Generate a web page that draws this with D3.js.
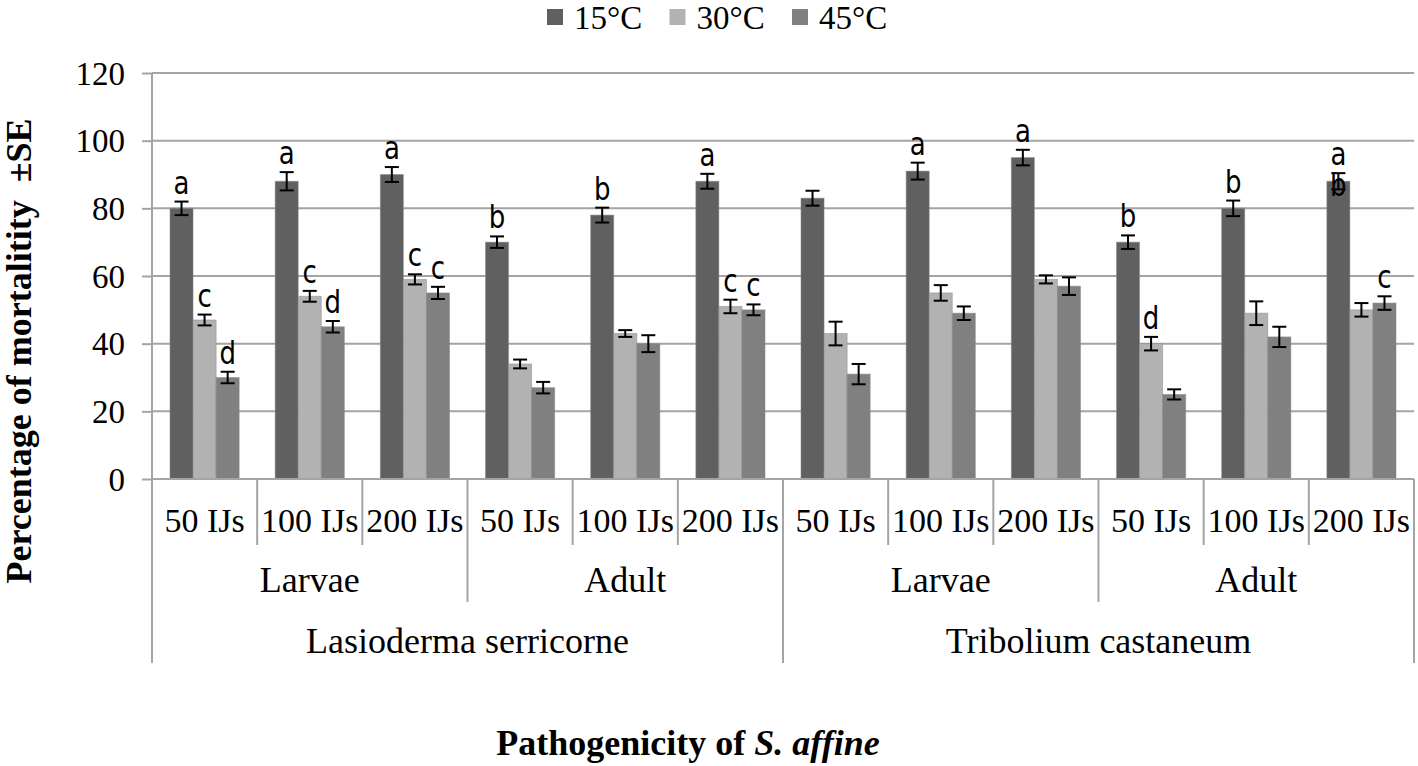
<!DOCTYPE html>
<html>
<head>
<meta charset="utf-8">
<script src="https://cdn.jsdelivr.net/npm/d3@7"></script>
<style>
  body { margin: 0; background: #fff; }
  svg { display: block; }
</style>
</head>
<body>
<svg id="chart" width="1418" height="766"></svg>
<script>
// data
const series = ['15°C', '30°C', '45°C']
const doses = ['50 IJs', '100 IJs', '200 IJs']
const stages = ['Larvae', 'Adult']
const species = ['Lasioderma serricorne', 'Tribolium castaneum']
const yTicks = [0, 20, 40, 60, 80, 100, 120]

const values15 = [80, 88, 90, 70, 78, 88, 83, 91, 95, 70, 80, 88]
const values30 = [47, 54, 59, 34, 43, 51, 43, 55, 59, 40, 49, 50]
const values45 = [30, 45, 55, 27, 40, 50, 31, 49, 57, 25, 42, 52]

const se15 = [2, 2.7, 2.2, 1.7, 2.2, 2.2, 2.2, 2.5, 2.3, 2, 2.3, 2.4]
const se30 = [1.6, 1.6, 1.5, 1.3, 1, 2, 3.5, 2.3, 1.2, 2, 3.5, 2]
const se45 = [1.7, 1.7, 1.8, 1.7, 2.5, 1.6, 3, 2, 2.6, 1.5, 3, 2]

const letters15 = ['a', 'a', 'a', 'b', 'b', 'a', '', 'a', 'a', 'b', 'b', 'ab']
const letters30 = ['c', 'c', 'c', '', '', 'c', '', '', '', 'd', '', '']
const letters45 = ['d', 'd', 'c', '', '', 'c', '', '', '', '', '', 'c']

const colors = ['#606060', '#b2b2b2', '#808080']
const serif = '"Liberation Serif", "Times New Roman", serif'

const draw = () => {
  const margin = {top: 73, left: 152, right: 4, bottom: 287}
  const fullWidth = 1418
  const fullHeight = 766
  const width = fullWidth - margin.left - margin.right
  const height = fullHeight - margin.top - margin.bottom

  const svg = d3.select('#chart')
  svg.selectAll('*').remove()

  // one slot for each species / stage / dose
  const cats = []
  species.forEach(sp => stages.forEach(st => doses.forEach(d => cats.push(sp + '|' + st + '|' + d))))

  const rows = cats.map((c, i) => ({
    key: c,
    bars: [
      {s: series[0], v: values15[i], e: se15[i], l: letters15[i]},
      {s: series[1], v: values30[i], e: se30[i], l: letters30[i]},
      {s: series[2], v: values45[i], e: se45[i], l: letters45[i]}
    ]
  }))

  const x0 = d3.scaleBand().domain(cats).range([0, width])
  const x1 = d3.scaleBand().domain(series).range([0, x0.bandwidth()]).paddingOuter(0.78)
  const y = d3.scaleLinear().domain([0, 120]).range([height, 0])
  const color = d3.scaleOrdinal().domain(series).range(colors)

  const g = svg.append('g')
    .attr('transform', 'translate(' + margin.left + ',' + margin.top + ')')

  // gridlines
  g.append('g')
    .selectAll('line')
    .data(yTicks)
    .join('line')
    .attr('x1', 0)
    .attr('x2', width)
    .attr('y1', d => y(d))
    .attr('y2', d => y(d))
    .attr('stroke', '#a4a4a4')
    .attr('stroke-width', 2)

  // Y axis
  const yAxis = d3.axisLeft(y).tickValues(yTicks).tickSize(10).tickPadding(17)
  const ya = g.append('g').call(yAxis)
  ya.select('.domain').remove()
  ya.selectAll('.tick line').attr('stroke', '#a4a4a4').attr('stroke-width', 2)
  ya.selectAll('.tick text')
    .attr('font-family', serif)
    .attr('font-size', 33)
    .attr('fill', '#000')
    .attr('dy', '0.34em')
  g.append('line')
    .attr('x1', 0).attr('x2', 0)
    .attr('y1', 0).attr('y2', height + 184)
    .attr('stroke', '#a4a4a4')
    .attr('stroke-width', 2)

  // bars
  const groups = g.append('g')
    .selectAll('g')
    .data(rows)
    .join('g')
    .attr('transform', d => 'translate(' + x0(d.key) + ',0)')

  groups.selectAll('rect')
    .data(d => d.bars)
    .join('rect')
    .attr('x', d => x1(d.s))
    .attr('width', x1.bandwidth())
    .attr('y', d => y(d.v))
    .attr('height', d => height - y(d.v))
    .attr('fill', d => color(d.s))
    .attr('stroke', '#8a8a8a')
    .attr('stroke-opacity', 0.5)
    .attr('stroke-width', 1)

  // error bars
  const cap = 7
  const err = groups.selectAll('g.err')
    .data(d => d.bars)
    .join('g')
    .attr('class', 'err')
    .attr('transform', d => 'translate(' + (x1(d.s) + x1.bandwidth() / 2) + ',0)')
    .attr('stroke', '#000')
    .attr('stroke-width', 2)
  err.append('line').attr('y1', d => y(d.v + d.e)).attr('y2', d => y(d.v - d.e))
  err.append('line').attr('x1', -cap).attr('x2', cap).attr('y1', d => y(d.v + d.e)).attr('y2', d => y(d.v + d.e))
  err.append('line').attr('x1', -cap).attr('x2', cap).attr('y1', d => y(d.v - d.e)).attr('y2', d => y(d.v - d.e))

  // significance letters
  groups.selectAll('g.lab')
    .data(d => d.bars.filter(b => b.l !== ''))
    .join('g')
    .attr('class', 'lab')
    .each(function (d) {
      const cx = x1(d.s) + x1.bandwidth() / 2
      d.l.split('').forEach((ch, k) => {
        d3.select(this).append('text')
          .attr('transform', 'translate(' + cx + ',' + (y(d.v + d.e) - 8 + k * 31) + ') scale(1,1.2)')
          .attr('text-anchor', 'middle')
          .attr('font-family', '"DejaVu Sans", Verdana, sans-serif')
          .attr('font-size', 26)
          .attr('fill', '#000')
          .text(ch)
      })
    })

  // category axis with three levels
  g.append('line')
    .attr('x1', 0).attr('x2', width)
    .attr('y1', height).attr('y2', height)
    .attr('stroke', '#a4a4a4')
    .attr('stroke-width', 2)

  const sepLen = [66, 123, 184]
  const bw = x0.bandwidth()
  d3.range(cats.length + 1).forEach(i => {
    let level = 0
    if (i % 3 === 0) level = 1
    if (i % 6 === 0) level = 2
    g.append('line')
      .attr('x1', i * bw).attr('x2', i * bw)
      .attr('y1', height).attr('y2', height + sepLen[level])
      .attr('stroke', '#a4a4a4')
      .attr('stroke-width', 2)
  })

  g.append('g')
    .selectAll('text')
    .data(cats)
    .join('text')
    .attr('x', d => x0(d) + bw / 2)
    .attr('y', height + 53)
    .attr('text-anchor', 'middle')
    .attr('font-family', serif)
    .attr('font-size', 34)
    .text(d => d.split('|')[2])

  const stageKeys = []
  species.forEach(sp => stages.forEach(st => stageKeys.push(st)))
  g.append('g')
    .selectAll('text')
    .data(stageKeys)
    .join('text')
    .attr('x', (d, i) => (i * 3 + 1.5) * bw)
    .attr('y', height + 113)
    .attr('text-anchor', 'middle')
    .attr('font-family', serif)
    .attr('font-size', 36)
    .text(d => d)

  g.append('g')
    .selectAll('text')
    .data(species)
    .join('text')
    .attr('x', (d, i) => (i * 6 + 3) * bw)
    .attr('y', height + 174)
    .attr('text-anchor', 'middle')
    .attr('font-family', serif)
    .attr('font-size', 36)
    .text(d => d)

  // legend
  const legend = svg.append('g').attr('transform', 'translate(547,9)')
  series.forEach((s, i) => {
    const item = legend.append('g').attr('transform', 'translate(' + (i * 122.5) + ',0)')
    item.append('rect').attr('width', 16).attr('height', 16).attr('fill', color(s))
    item.append('text')
      .attr('x', 27).attr('y', 20)
      .attr('font-family', serif)
      .attr('font-size', 33)
      .text(s)
  })

  // axis titles
  svg.append('text')
    .attr('transform', 'translate(31,351) rotate(-90)')
    .attr('text-anchor', 'middle')
    .attr('font-family', serif)
    .attr('font-weight', 'bold')
    .attr('font-size', 36)
    .style('white-space', 'pre')
    .text('Percentage of mortalitity  \u00b1SE')

  const xt = svg.append('text')
    .attr('x', 688)
    .attr('y', 755)
    .attr('text-anchor', 'middle')
    .attr('font-family', serif)
    .attr('font-weight', 'bold')
    .attr('font-size', 36)
  xt.append('tspan').text('Pathogenicity of ')
  xt.append('tspan').attr('font-style', 'italic').text('S. affine')
}

draw()
</script>
</body>
</html>
